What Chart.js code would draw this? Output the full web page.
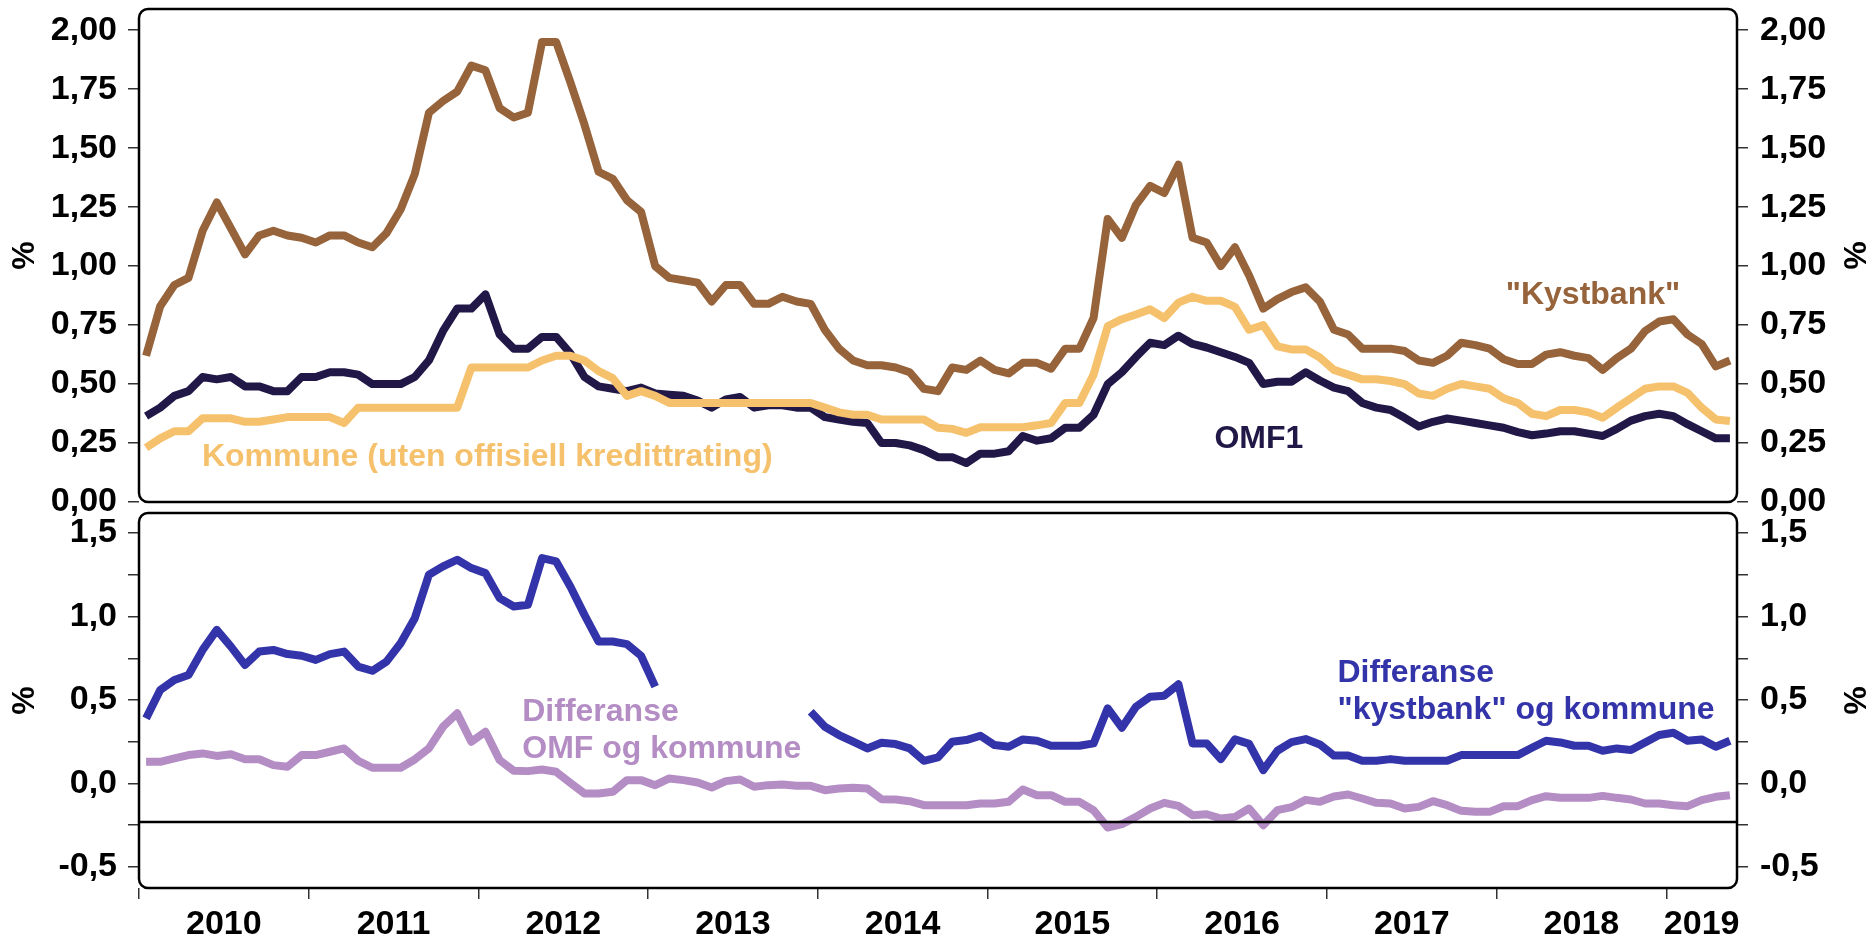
<!DOCTYPE html>
<html>
<head>
<meta charset="utf-8">
<script src="https://cdn.jsdelivr.net/npm/chart.js@4.4.1/dist/chart.umd.min.js"></script>
<style>
  html, body { margin: 0; padding: 0; background: #fff; }
  #wrap { position: relative; width: 1870px; height: 940px; }
  #topChart { position: absolute; left: 0; top: 0; }
  #bottomChart { position: absolute; left: 0; top: 505px; }
</style>
</head>
<body>
<div id="wrap">
  <canvas id="topChart" width="1870" height="520"></canvas>
  <canvas id="bottomChart" width="1870" height="435"></canvas>
</div>
<script>
/* ================= DATA ================= */
// monthly, Jan 2010 - May 2019, points sit mid-month
const startYear = 2010;
const monthCount = 113;
const yearLabels = ["2010", "2011", "2012", "2013", "2014", "2015", "2016", "2017", "2018", "2019"];

const kystbank = [
  0.62, 0.83, 0.92, 0.95, 1.15, 1.27, 1.16, 1.05, 1.13, 1.15,
  1.13, 1.12, 1.10, 1.13, 1.13, 1.10, 1.08, 1.14, 1.24, 1.39,
  1.65, 1.70, 1.74, 1.85, 1.83, 1.67, 1.63, 1.65, 1.95, 1.95,
  1.78, 1.60, 1.40, 1.37, 1.28, 1.23, 1.00, 0.95, 0.94, 0.93,
  0.85, 0.92, 0.92, 0.84, 0.84, 0.87, 0.85, 0.84, 0.73, 0.65,
  0.60, 0.58, 0.58, 0.57, 0.55, 0.48, 0.47, 0.57, 0.56, 0.60,
  0.56, 0.545, 0.59, 0.59, 0.565, 0.65, 0.65, 0.78, 1.20, 1.12,
  1.26, 1.34, 1.31, 1.43, 1.12, 1.10, 1.00, 1.08, 0.96, 0.82,
  0.86, 0.89, 0.91, 0.85, 0.73, 0.71, 0.65, 0.65, 0.65, 0.64,
  0.60, 0.59, 0.62, 0.675, 0.665, 0.65, 0.605, 0.585, 0.585, 0.625,
  0.635, 0.62, 0.61, 0.56, 0.61, 0.65, 0.725, 0.765, 0.775, 0.71,
  0.67, 0.575, 0.60,
];

const omf1 = [
  0.364, 0.40, 0.45, 0.47, 0.53, 0.52, 0.53, 0.49, 0.49, 0.47,
  0.47, 0.53, 0.53, 0.55, 0.55, 0.54, 0.50, 0.50, 0.50, 0.53,
  0.60, 0.725, 0.82, 0.82, 0.88, 0.71, 0.65, 0.65, 0.70, 0.70,
  0.63, 0.53, 0.49, 0.48, 0.47, 0.485, 0.46, 0.455, 0.45, 0.43,
  0.40, 0.435, 0.445, 0.40, 0.41, 0.41, 0.40, 0.40, 0.36, 0.35,
  0.34, 0.335, 0.25, 0.25, 0.24, 0.22, 0.19, 0.19, 0.165, 0.205,
  0.205, 0.215, 0.28, 0.26, 0.27, 0.315, 0.315, 0.37, 0.50, 0.55,
  0.615, 0.675, 0.665, 0.705, 0.67, 0.655, 0.635, 0.615, 0.59, 0.50,
  0.51, 0.51, 0.55, 0.515, 0.485, 0.47, 0.42, 0.40, 0.39, 0.357,
  0.32, 0.34, 0.354, 0.345, 0.335, 0.325, 0.315, 0.296, 0.283, 0.29,
  0.30, 0.30, 0.29, 0.28, 0.31, 0.345, 0.364, 0.374, 0.364, 0.33,
  0.30, 0.27, 0.27,
];

const kommune = [
  0.23, 0.27, 0.30, 0.30, 0.355, 0.355, 0.355, 0.34, 0.34, 0.35,
  0.36, 0.36, 0.36, 0.36, 0.335, 0.40, 0.40, 0.40, 0.40, 0.40,
  0.40, 0.40, 0.40, 0.57, 0.57, 0.57, 0.57, 0.57, 0.60, 0.62,
  0.62, 0.60, 0.555, 0.525, 0.45, 0.47, 0.45, 0.42, 0.42, 0.42,
  0.42, 0.42, 0.42, 0.42, 0.42, 0.42, 0.42, 0.42, 0.40, 0.38,
  0.37, 0.37, 0.35, 0.35, 0.35, 0.35, 0.315, 0.31, 0.293, 0.317,
  0.317, 0.317, 0.317, 0.325, 0.335, 0.42, 0.42, 0.54, 0.745, 0.775,
  0.795, 0.817, 0.78, 0.845, 0.87, 0.853, 0.853, 0.827, 0.73, 0.75,
  0.66, 0.647, 0.647, 0.613, 0.56, 0.54, 0.52, 0.52, 0.513, 0.50,
  0.46, 0.45, 0.48, 0.50, 0.49, 0.48, 0.44, 0.42, 0.374, 0.364,
  0.39, 0.39, 0.38, 0.357, 0.40, 0.44, 0.48, 0.49, 0.49, 0.463,
  0.40, 0.35, 0.343,
];

// "kystbank" minus kommune (gap where series is missing)
const diffKystbank = [
  0.39, 0.56, 0.62, 0.65, 0.80, 0.92, 0.82, 0.71, 0.79, 0.80,
  0.775, 0.765, 0.74, 0.775, 0.79, 0.70, 0.675, 0.73, 0.84, 0.99,
  1.25, 1.30, 1.34, 1.29, 1.26, 1.11, 1.06, 1.07, 1.35, 1.33,
  1.18, 1.01, 0.85, 0.85, 0.835, 0.765, 0.58, null, null, null,
  null, null, null, null, null, null, null, 0.43, 0.34, 0.29,
  0.25, 0.21, 0.244, 0.236, 0.21, 0.136, 0.156, 0.25, 0.26, 0.286,
  0.23, 0.22, 0.264, 0.256, 0.226, 0.226, 0.226, 0.24, 0.45, 0.334,
  0.46, 0.52, 0.526, 0.594, 0.24, 0.24, 0.146, 0.264, 0.237, 0.08,
  0.196, 0.248, 0.266, 0.234, 0.167, 0.167, 0.136, 0.136, 0.146, 0.136,
  0.136, 0.136, 0.136, 0.17, 0.17, 0.17, 0.17, 0.17, 0.214, 0.256,
  0.246, 0.226, 0.226, 0.196, 0.21, 0.20, 0.246, 0.29, 0.304, 0.256,
  0.264, 0.22, 0.256,
];

// OMF minus kommune
const diffOmf = [
  0.13, 0.13, 0.15, 0.17, 0.18, 0.165, 0.175, 0.145, 0.145, 0.11,
  0.10, 0.17, 0.17, 0.19, 0.21, 0.136, 0.094, 0.094, 0.094, 0.144,
  0.21, 0.34, 0.42, 0.25, 0.31, 0.14, 0.076, 0.074, 0.084, 0.07,
  0.004, -0.06, -0.06, -0.05, 0.02, 0.02, -0.01, 0.03, 0.02, 0.006,
  -0.024, 0.014, 0.024, -0.02, -0.01, -0.006, -0.014, -0.014, -0.04, -0.03,
  -0.026, -0.03, -0.094, -0.096, -0.106, -0.13, -0.13, -0.13, -0.13, -0.12,
  -0.12, -0.11, -0.036, -0.07, -0.07, -0.11, -0.11, -0.16, -0.264, -0.244,
  -0.20, -0.15, -0.116, -0.134, -0.19, -0.184, -0.21, -0.20, -0.15, -0.25,
  -0.16, -0.142, -0.098, -0.11, -0.078, -0.066, -0.09, -0.116, -0.12, -0.15,
  -0.14, -0.106, -0.13, -0.164, -0.17, -0.17, -0.136, -0.136, -0.10, -0.076,
  -0.086, -0.086, -0.086, -0.074, -0.086, -0.096, -0.12, -0.12, -0.13, -0.136,
  -0.10, -0.08, -0.07,
];

const refLevel = -0.23; // black horizontal line in lower panel

const topTickValues = [0, 0.25, 0.5, 0.75, 1, 1.25, 1.5, 1.75, 2];
const topTickLabels = ["0,00", "0,25", "0,50", "0,75", "1,00", "1,25", "1,50", "1,75", "2,00"];
const bottomTickValues = [-0.5, -0.25, 0, 0.25, 0.5, 0.75, 1, 1.25, 1.5];
const bottomTickLabels = ["-0,5", "", "0,0", "", "0,5", "", "1,0", "", "1,5"];

/* ================= STYLE ================= */
const FONT = "'Liberation Sans', Arial, Helvetica, sans-serif";
const brown = "#96633a";
const yellow = "#f6c16c";
const navy = "#211848";
const blue = "#3333aa";
const purple = "#b48dc5";
const leftW = 139;
const rightW = 133;

const toPoints = (values) => values.map((v, i) => ({ x: i + 0.5, y: v }));

const line = (label, values, color, width) => ({
  label,
  data: toPoints(values),
  borderColor: color,
  backgroundColor: color,
  borderWidth: width || 8,
  pointRadius: 0,
  tension: 0,
  borderJoinStyle: "round",
  borderCapStyle: "butt",
  spanGaps: false,
});

const yAxis = (pos, min, max, values, labels) => ({
  type: "linear",
  position: pos,
  min,
  max,
  afterBuildTicks: (s) => {
    s.ticks = values.map((v) => ({ value: v }));
  },
  afterFit: (s) => {
    s.width = pos === "left" ? leftW : rightW;
    s.paddingTop = 0;
    s.paddingBottom = 0;
  },
  grid: { drawOnChartArea: false, tickLength: 11, color: "#333", lineWidth: 1.5 },
  border: { display: false },
  ticks: {
    autoSkip: false,
    padding: pos === "left" ? 11 : 12,
    color: "#000",
    font: { family: FONT, size: 34, weight: "bold" },
    callback: (v, i) => labels[i],
  },
  title: {
    display: true,
    text: "%",
    color: "#000",
    font: { family: FONT, size: 32, weight: "bold", lineHeight: 1 },
    padding: { top: pos === "left" ? 9 : 1, bottom: 0 },
  },
});

/* ================= PLUGINS ================= */
const boxPlugin = {
  id: "panelBox",
  afterDatasetsDraw(chart) {
    const { ctx, chartArea: a } = chart;
    ctx.save();
    ctx.lineWidth = 2.5;
    ctx.strokeStyle = "#000";
    ctx.beginPath();
    ctx.roundRect(a.left, a.top, a.right - a.left, a.bottom - a.top, 9);
    ctx.stroke();
    ctx.restore();
  },
};

const notesPlugin = {
  id: "notes",
  afterDatasetsDraw(chart, args, opts) {
    const { ctx, scales } = chart;
    ctx.save();
    ctx.font = "bold 32px " + FONT;
    ctx.textAlign = "left";
    ctx.textBaseline = "alphabetic";
    (opts.items || []).forEach((n) => {
      const x = scales.x.getPixelForValue(n.x);
      const y = scales.y.getPixelForValue(n.y);
      ctx.fillStyle = n.color;
      n.lines.forEach((t, k) => ctx.fillText(t, x, y + k * 37));
    });
    ctx.restore();
  },
};

/* ================= TOP PANEL ================= */
new Chart(document.getElementById("topChart"), {
  type: "line",
  data: {
    datasets: [
      line("Kommune (uten offisiell kredittrating)", kommune, yellow),
      line("OMF1", omf1, navy),
      line('"Kystbank"', kystbank, brown),
    ],
  },
  options: {
    responsive: false,
    animation: false,
    events: [],
    layout: { padding: { top: 9, bottom: 18, left: 0, right: 0 } },
    plugins: {
      legend: { display: false },
      tooltip: { enabled: false },
      notes: {
        items: [
          { lines: ["Kommune (uten offisiell kredittrating)"], color: yellow, x: 4.45, y: 0.153 },
          { lines: ["OMF1"], color: navy, x: 76.05, y: 0.229 },
          { lines: ['"Kystbank"'], color: brown, x: 96.65, y: 0.84 },
        ],
      },
    },
    scales: {
      x: { type: "linear", display: false, min: 0, max: monthCount },
      y: yAxis("left", 0, 2.09, topTickValues, topTickLabels),
      y2: yAxis("right", 0, 2.09, topTickValues, topTickLabels),
    },
  },
  plugins: [boxPlugin, notesPlugin],
});

/* ================= BOTTOM PANEL ================= */
const yearStarts = yearLabels.map((_, k) => k * 12);
const yearMids = yearLabels.map((_, k) => (k * 12 + Math.min(k * 12 + 12, monthCount)) / 2);
const markSet = new Set(yearStarts);
const midLabel = new Map(yearMids.map((v, k) => [v, yearLabels[k]]));

new Chart(document.getElementById("bottomChart"), {
  type: "line",
  data: {
    datasets: [
      {
        label: "ref",
        data: [{ x: 0, y: refLevel }, { x: monthCount, y: refLevel }],
        borderColor: "#000",
        borderWidth: 2.5,
        pointRadius: 0,
      },
      line("Differanse OMF og kommune", diffOmf, purple),
      line('Differanse "kystbank" og kommune', diffKystbank, blue),
    ],
  },
  options: {
    responsive: false,
    animation: false,
    events: [],
    layout: { padding: { top: 8, bottom: 0, left: 0, right: 0 } },
    plugins: {
      legend: { display: false },
      tooltip: { enabled: false },
      notes: {
        items: [
          { lines: ["Differanse", "OMF og kommune"], color: purple, x: 27.1, y: 0.374 },
          { lines: ["Differanse", '"kystbank" og kommune'], color: blue, x: 84.75, y: 0.608 },
        ],
      },
    },
    scales: {
      x: {
        type: "linear",
        min: 0,
        max: monthCount,
        afterBuildTicks: (s) => {
          s.ticks = [...yearStarts, ...yearMids].sort((a, b) => a - b).map((v) => ({ value: v }));
        },
        afterFit: (s) => {
          s.height = 52;
          s.paddingLeft = 0;
          s.paddingRight = 0;
        },
        grid: {
          drawOnChartArea: false,
          tickLength: 11,
          lineWidth: 1.5,
          tickColor: (c) => (c.tick && markSet.has(c.tick.value) ? "#333" : "rgba(0,0,0,0)"),
        },
        border: { display: false },
        ticks: {
          autoSkip: false,
          maxRotation: 0,
          padding: 5,
          color: "#000",
          font: { family: FONT, size: 34, weight: "bold" },
          callback: (v) => midLabel.get(v) || "",
        },
      },
      y: yAxis("left", -0.626, 1.62, bottomTickValues, bottomTickLabels),
      y2: yAxis("right", -0.626, 1.62, bottomTickValues, bottomTickLabels),
    },
  },
  plugins: [boxPlugin, notesPlugin],
});
</script>
</body>
</html>
